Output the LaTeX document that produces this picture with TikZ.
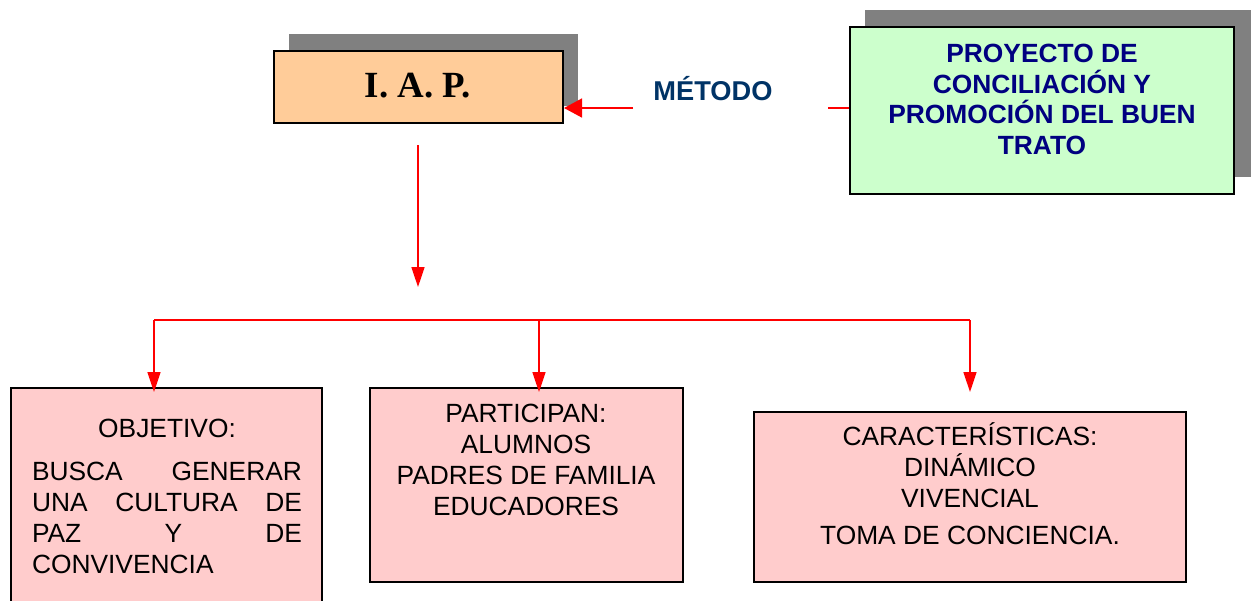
\documentclass[tikz,border=0pt]{standalone}
\usepackage{fontspec}
\setmainfont{Liberation Serif}
\setsansfont{Liberation Sans}
\usetikzlibrary{arrows.meta}
\definecolor{peach}{HTML}{FFCC99}
\definecolor{mint}{HTML}{CCFFCC}
\definecolor{rosa}{HTML}{FFCCCC}
\definecolor{shade}{HTML}{808080}
\definecolor{navyblue}{HTML}{000080}
\definecolor{metblue}{HTML}{003366}
\begin{document}
\begin{tikzpicture}[x=0.02cm,y=-0.02cm,
  box/.style={draw=black,line width=1.2pt,inner sep=0pt},
  shadowbox/.style={fill=shade,inner sep=0pt},
  link/.style={draw=red,line width=0.9pt},
  tip/.style={-{Triangle[length=0.4cm,width=0.26cm]}},
  widetip/.style={-{Triangle[length=0.36cm,width=0.38cm]}},
  txt/.style={font=\fontsize{15}{17.6}\selectfont\sffamily,align=center,inner sep=0pt,anchor=base}]
\useasboundingbox (0,0) rectangle (1251,600);
\clip (0,0) rectangle (1251,600);
% I.A.P.
\node[shadowbox,minimum width=5.78cm,minimum height=1.44cm] (iapsh) at (433.5,70) {};
\node[box,fill=peach,minimum width=5.78cm,minimum height=1.44cm] (iap) at (418.5,87) {};
\node[font=\fontsize{21}{25}\selectfont\bfseries,inner sep=0pt,anchor=base] (iaptxt) at (418,97) {I. A. P.};
% Proyecto
\node[shadowbox,minimum width=7.72cm,minimum height=3.34cm] (projsh) at (1058,93.5) {};
\node[box,fill=mint,minimum width=7.68cm,minimum height=3.34cm] (proj) at (1042,110.5) {};
\node[txt,font=\fontsize{15}{17.5}\selectfont\sffamily\bfseries,text=navyblue] (projtxt) at (1042,154.5)
  {PROYECTO DE\\CONCILIACIÓN Y\\PROMOCIÓN DEL BUEN\\TRATO};
% Metodo
\node[txt,font=\fontsize{15.5}{18}\selectfont\sffamily\bfseries,text=metblue] (met) at (713,100) {MÉTODO};
\coordinate (m1) at (633,108);
\coordinate (m2) at (828,108);
\draw[link,widetip] (m1) -- (m1 -| iap.east);
\draw[link] (m2) -- (m2 -| proj.west);
% vertical arrow
\coordinate (v1) at (418,145);
\coordinate (v2) at (418,287);
\draw[link,tip] (v1) -- (v2);
% bottom boxes
\node[box,fill=rosa,minimum width=6.22cm,minimum height=4.64cm] (obj) at (166.5,504) {};
\node[box,fill=rosa,minimum width=6.26cm,minimum height=3.88cm] (part) at (526.5,485) {};
\node[box,fill=rosa,minimum width=8.64cm,minimum height=3.4cm] (car) at (970,497) {};
% bus
\coordinate (b1) at (154,320);
\coordinate (b2) at (539,320);
\coordinate (b3) at (970,320);
\coordinate (e1) at (154,392);
\coordinate (e2) at (539,392);
\coordinate (e3) at (970,392);
\draw[link] (b1) -- (b3);
\draw[link,tip] (b1) -- (e1);
\draw[link,tip] (b2) -- (e2);
\draw[link,tip] (b3) -- (e3);
% texts
\node[txt] (objtxt) at (167,573.5)
  {OBJETIVO:\\[6.8pt]
   \makebox[5.4cm][s]{BUSCA GENERAR}\\
   \makebox[5.4cm][s]{UNA CULTURA DE}\\
   \makebox[5.4cm][s]{PAZ Y DE}\\
   \makebox[5.4cm][l]{CONVIVENCIA}};
\node[txt] (parttxt) at (526,515.5)
  {PARTICIPAN:\\ALUMNOS\\PADRES DE FAMILIA\\EDUCADORES};
\node[txt] (cartxt) at (970,544.5)
  {CARACTERÍSTICAS:\\DINÁMICO\\VIVENCIAL\\[3.4pt]TOMA DE CONCIENCIA.};
\end{tikzpicture}
\end{document}
